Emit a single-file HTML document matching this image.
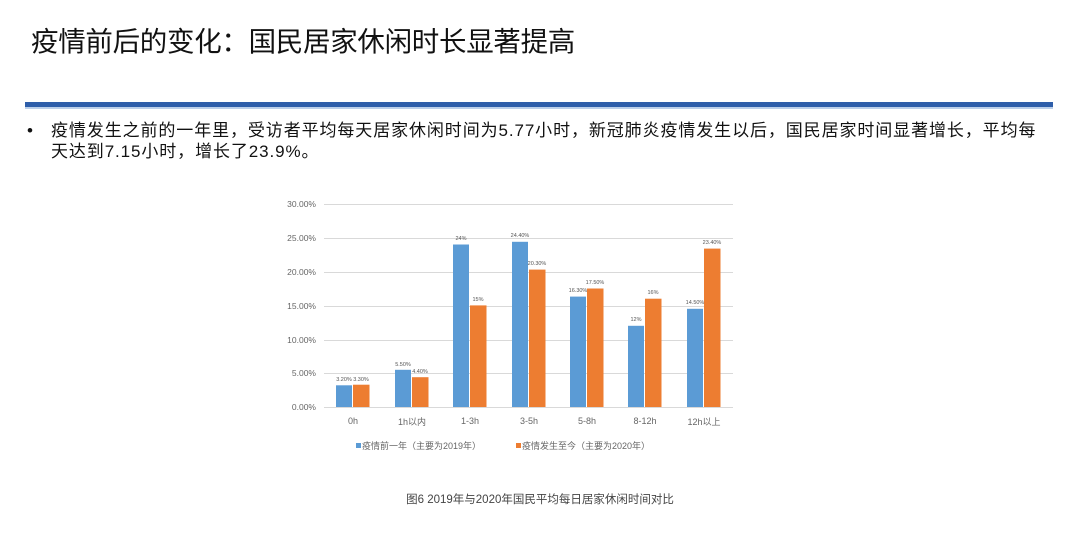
<!DOCTYPE html>
<html><head><meta charset="utf-8"><style>
body{margin:0;width:1080px;height:537px;background:#fff;overflow:hidden;font-family:"Liberation Sans","Noto Sans CJK SC",sans-serif;position:relative}
.t{position:absolute;left:31px;top:19px;font-size:27.5px;color:#111;letter-spacing:-0.3px}
.bar{position:absolute;left:25px;top:102px;width:1028px;height:5px;background:#2e5eaa}
.bar2{position:absolute;left:25px;top:107px;width:1028px;height:2px;background:#bcd0ea}
.p{position:absolute;left:33px;top:120px;width:1040px;font-size:17px;letter-spacing:0.9px;line-height:21px;color:#111;white-space:nowrap}
.p span{position:absolute;left:-6px}
</style></head><body>
<div class="t">疫情前后的变化：国民居家休闲时长显著提高</div>
<div class="bar"></div><div class="bar2"></div>
<div class="p"><span>•</span><div style="padding-left:18px">疫情发生之前的一年里，受访者平均每天居家休闲时间为5.77小时，新冠肺炎疫情发生以后，国民居家时间显著增长，平均每<br>天达到7.15小时，增长了23.9%。</div></div>
<svg width="1080" height="537" style="position:absolute;left:0;top:0" font-family="Liberation Sans, Noto Sans CJK SC, sans-serif">
<g stroke="#d9d9d9" stroke-width="1">
<line x1="324" x2="733" y1="204.5" y2="204.5"/><line x1="324" x2="733" y1="238.5" y2="238.5"/><line x1="324" x2="733" y1="272.5" y2="272.5"/><line x1="324" x2="733" y1="306.5" y2="306.5"/><line x1="324" x2="733" y1="340.5" y2="340.5"/><line x1="324" x2="733" y1="373.5" y2="373.5"/><line x1="324" x2="733" y1="407.5" y2="407.5"/>
</g>
<g font-size="8.5" fill="#666" text-anchor="end">
<text x="316" y="207">30.00%</text><text x="316" y="241">25.00%</text><text x="316" y="275">20.00%</text><text x="316" y="309">15.00%</text><text x="316" y="343">10.00%</text><text x="316" y="376">5.00%</text><text x="316" y="410">0.00%</text>
</g>
<g fill="#5b9bd5">
<rect x="336" y="385.3" width="16" height="21.7"/>
<rect x="395" y="369.8" width="16" height="37.2"/>
<rect x="453" y="244.5" width="16" height="162.5"/>
<rect x="512" y="241.8" width="16" height="165.2"/>
<rect x="570" y="296.6" width="16" height="110.4"/>
<rect x="628" y="325.8" width="16" height="81.2"/>
<rect x="687" y="308.8" width="16" height="98.2"/>
</g>
<g fill="#ed7d31">
<rect x="353" y="384.7" width="16.5" height="22.3"/>
<rect x="412" y="377.2" width="16.5" height="29.8"/>
<rect x="470" y="305.4" width="16.5" height="101.6"/>
<rect x="529" y="269.6" width="16.5" height="137.4"/>
<rect x="587" y="288.5" width="16.5" height="118.5"/>
<rect x="645" y="298.7" width="16.5" height="108.3"/>
<rect x="704" y="248.6" width="16.5" height="158.4"/>
</g>
<g font-size="5.5" fill="#555" text-anchor="middle">
<text x="344" y="381">3.20%</text><text x="361" y="381">3.30%</text>
<text x="403" y="366">5.50%</text><text x="420" y="373">4.40%</text>
<text x="461" y="240">24%</text><text x="478" y="301">15%</text>
<text x="520" y="237">24.40%</text><text x="537" y="265">20.30%</text>
<text x="578" y="292">16.30%</text><text x="595" y="284">17.50%</text>
<text x="636" y="321">12%</text><text x="653" y="294">16%</text>
<text x="695" y="304">14.50%</text><text x="712" y="244">23.40%</text>
</g>
<g font-size="9" fill="#666" text-anchor="middle">
<text x="353" y="424">0h</text><text x="412" y="425">1h以内</text><text x="470" y="424">1-3h</text><text x="529" y="424">3-5h</text><text x="587" y="424">5-8h</text><text x="645" y="424">8-12h</text><text x="704" y="425">12h以上</text>
</g>
<g font-size="9" fill="#666">
<rect x="356" y="443" width="5" height="5" fill="#5b9bd5"/><text x="362" y="449">疫情前一年（主要为2019年）</text>
<rect x="516" y="443" width="5" height="5" fill="#ed7d31"/><text x="522" y="449">疫情发生至今（主要为2020年）</text>
</g>
<text x="540" y="503" font-size="11.5" fill="#444" text-anchor="middle">图6 2019年与2020年国民平均每日居家休闲时间对比</text>
</svg>
</body></html>
